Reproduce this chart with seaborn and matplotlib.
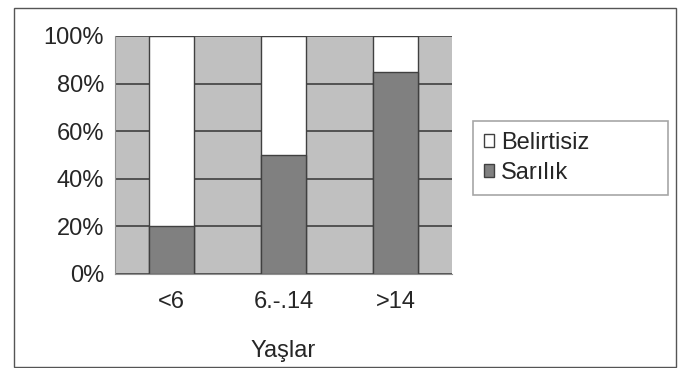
import pandas as pd
import numpy as np
import matplotlib
matplotlib.use("Agg")
import matplotlib.pyplot as plt
import seaborn as sns
from matplotlib.patches import Rectangle, Patch

# data
groups = ["<6", "6.-.14", ">14"]
sarilik = [20, 50, 85]
belirtisiz = [80, 50, 15]

df = pd.DataFrame({"grup": groups, "Sarilik": sarilik, "Belirtisiz": belirtisiz})
df["toplam"] = df["Sarilik"] + df["Belirtisiz"]

sns.set_style("white")
plt.rcParams["font.family"] = ["Liberation Sans", "DejaVu Sans"]
fs = 17

fig = plt.figure(figsize=(6.9, 3.68), dpi=100)
ax = fig.add_axes([115/690, 1-274/368, (452-115)/690, (274-36)/368])

# stacked: white total bar behind, dark Sarılık bar in front
sns.barplot(data=df, x="grup", y="toplam", order=groups, color="white",
            width=0.4, edgecolor="#404040", linewidth=1.0, saturation=1, ax=ax)
sns.barplot(data=df, x="grup", y="Sarilik", order=groups, color="#808080",
            width=0.4, edgecolor="#404040", linewidth=1.0, saturation=1, ax=ax)

ax.set_facecolor("#c0c0c0")
ax.set_xlim(-0.5, 2.5)
ax.set_ylim(0, 100)
ax.set_axisbelow(True)
ax.yaxis.grid(True, color="#404040", linewidth=1.2)
ax.xaxis.grid(False)
ax.set_yticks([0, 20, 40, 60, 80, 100])
ax.set_yticklabels([f"{v}%" for v in [0, 20, 40, 60, 80, 100]], fontsize=fs)
ax.set_xticks(range(3))
ax.set_xticklabels(groups, fontsize=fs)
ax.set_xticks([-0.5, 0.5, 1.5, 2.5], minor=True)
ax.tick_params(axis="x", which="major", length=0, pad=12)
ax.tick_params(axis="x", which="minor", length=4, color="#909090", direction="out")
ax.tick_params(axis="y", which="major", length=4, color="#909090", direction="out", pad=4)
ax.set_xlabel("Yaşlar", fontsize=fs, labelpad=20)
ax.set_ylabel("")
for s in ["top", "right"]:
    ax.spines[s].set_visible(False)
ax.spines["left"].set_color("#909090")
ax.spines["bottom"].set_color("#909090")

handles = [Patch(facecolor="white", edgecolor="#404040", label="Belirtisiz"),
           Patch(facecolor="#808080", edgecolor="#404040", label="Sarılık")]
leg = fig.legend(handles=handles, loc="upper left",
                 bbox_to_anchor=(473/690, 1-121/368, 195/690, 0.0), mode="expand",
                 fontsize=fs, frameon=True, fancybox=False, shadow=False,
                 handlelength=0.45, handleheight=0.45, handletextpad=0.3,
                 borderpad=0.45, labelspacing=0.35, borderaxespad=0)
leg.get_frame().set_edgecolor("#909090")
leg.get_frame().set_linewidth(1.2)

fig.patches.append(Rectangle((14/690, 1/368), (676-14)/690, (360-1)/368,
                             transform=fig.transFigure, fill=False,
                             edgecolor="#555555", linewidth=1.0))

fig.savefig("out.png", dpi=100)
